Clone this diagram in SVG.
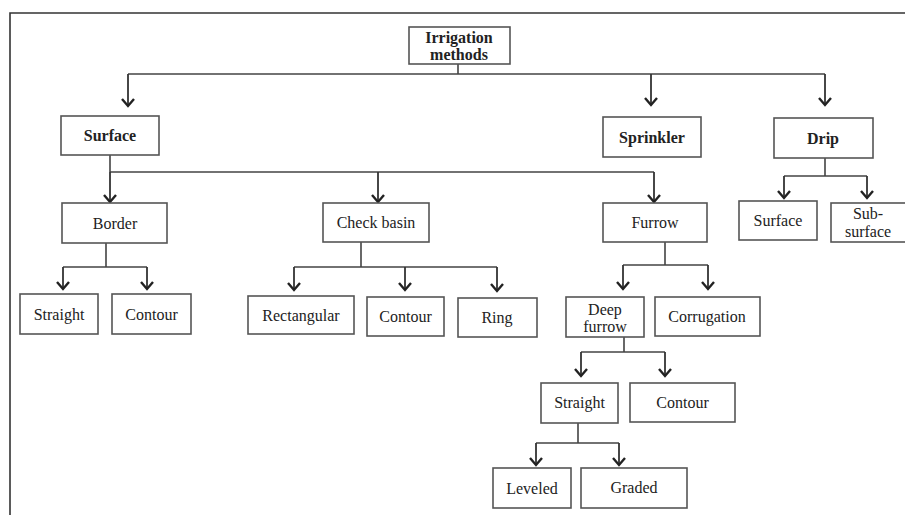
<svg xmlns="http://www.w3.org/2000/svg" width="905" height="515" viewBox="0 0 905 515">
<defs>
<marker id="chev" markerUnits="userSpaceOnUse" markerWidth="20" markerHeight="20" refX="0" refY="0" viewBox="-10 -10 20 20" orient="auto" overflow="visible">
<path d="M-7,-6 L0,0 L-7,6" fill="none" stroke="#222" stroke-width="2.4" stroke-linejoin="miter"/>
</marker>
<style>
.box{fill:#fff;stroke:#555;stroke-width:1.6}
.t{font-family:"Liberation Serif","Times New Roman",serif;font-size:16px;fill:#222;text-anchor:middle}
.b{font-weight:bold}
.ln{fill:none;stroke:#444;stroke-width:1.6}
.ar{fill:none;stroke:#333;stroke-width:1.8;marker-end:url(#chev)}
.frame{fill:none;stroke:#333;stroke-width:1.6}
</style>
</defs>
<rect width="905" height="515" fill="#fff"/>
<path class="frame" d="M905,13 H10 V515"/>
<g id="connectors">
<path class="ln" d="M458,64 V74 M128,74 H825"/>
<path class="ar" d="M128,74 V106"/>
<path class="ar" d="M651,74 V105"/>
<path class="ar" d="M825,74 V105"/>
<path class="ln" d="M110,155 V172 M110,172 H654"/>
<path class="ar" d="M110,172 V202"/>
<path class="ar" d="M378,172 V202"/>
<path class="ar" d="M654,172 V202"/>
<path class="ln" d="M825,158 V176 M784,176 H867"/>
<path class="ar" d="M784,176 V198"/>
<path class="ar" d="M867,176 V198"/>
<path class="ln" d="M106,243 V267 M63,267 H147"/>
<path class="ar" d="M63,267 V289"/>
<path class="ar" d="M147,267 V289"/>
<path class="ln" d="M361,242 V267 M294,267 H497"/>
<path class="ar" d="M294,267 V290"/>
<path class="ar" d="M405,267 V290"/>
<path class="ar" d="M497,267 V291"/>
<path class="ln" d="M665,242 V265 M623,265 H708"/>
<path class="ar" d="M623,265 V289"/>
<path class="ar" d="M708,265 V289"/>
<path class="ln" d="M624,337 V352 M581,352 H665"/>
<path class="ar" d="M581,352 V376"/>
<path class="ar" d="M665,352 V376"/>
<path class="ln" d="M578,423 V443 M536,443 H619"/>
<path class="ar" d="M536,443 V465"/>
<path class="ar" d="M619,443 V465"/>
</g>
<g id="irrigation"><rect class="box" x="409" y="27" width="101" height="37"/><text class="t b" x="459" y="43">Irrigation</text><text class="t b" x="459" y="60">methods</text></g>
<g id="surface"><rect class="box" x="61" y="116" width="98" height="39"/><text class="t b" x="110" y="141">Surface</text></g>
<g id="sprinkler"><rect class="box" x="603" y="117" width="98" height="40"/><text class="t b" x="652" y="143">Sprinkler</text></g>
<g id="drip"><rect class="box" x="774" y="118" width="99" height="40"/><text class="t b" x="823" y="144">Drip</text></g>
<g id="border"><rect class="box" x="62" y="203" width="105" height="40"/><text class="t" x="115" y="229">Border</text></g>
<g id="checkbasin"><rect class="box" x="323" y="203" width="106" height="39"/><text class="t" x="376" y="228">Check basin</text></g>
<g id="furrow"><rect class="box" x="603" y="203" width="104" height="39"/><text class="t" x="655" y="228">Furrow</text></g>
<g id="drip-surface"><rect class="box" x="739" y="201" width="78" height="39"/><text class="t" x="778" y="226">Surface</text></g>
<g id="drip-subsurface"><rect class="box" x="831" y="203" width="80" height="39"/><text class="t" x="868" y="219">Sub-</text><text class="t" x="868" y="237">surface</text></g>
<g id="border-straight"><rect class="box" x="20" y="294" width="78" height="40"/><text class="t" x="59" y="320">Straight</text></g>
<g id="border-contour"><rect class="box" x="112" y="294" width="79" height="40"/><text class="t" x="151.5" y="320">Contour</text></g>
<g id="rectangular"><rect class="box" x="248" y="296" width="106" height="38"/><text class="t" x="301" y="321">Rectangular</text></g>
<g id="basin-contour"><rect class="box" x="367" y="297" width="77" height="39"/><text class="t" x="405.5" y="322">Contour</text></g>
<g id="ring"><rect class="box" x="458" y="298" width="79" height="39"/><text class="t" x="497" y="323">Ring</text></g>
<g id="deepfurrow"><rect class="box" x="566" y="297" width="78" height="40"/><text class="t" x="605" y="315">Deep</text><text class="t" x="605" y="332">furrow</text></g>
<g id="corrugation"><rect class="box" x="655" y="297" width="105" height="39"/><text class="t" x="707" y="322">Corrugation</text></g>
<g id="furrow-straight"><rect class="box" x="541" y="383" width="77" height="40"/><text class="t" x="579.5" y="408">Straight</text></g>
<g id="furrow-contour"><rect class="box" x="630" y="383" width="105" height="39"/><text class="t" x="682.5" y="408">Contour</text></g>
<g id="leveled"><rect class="box" x="493" y="468" width="78" height="40"/><text class="t" x="532" y="494">Leveled</text></g>
<g id="graded"><rect class="box" x="581" y="468" width="106" height="40"/><text class="t" x="634" y="493">Graded</text></g>
</svg>
